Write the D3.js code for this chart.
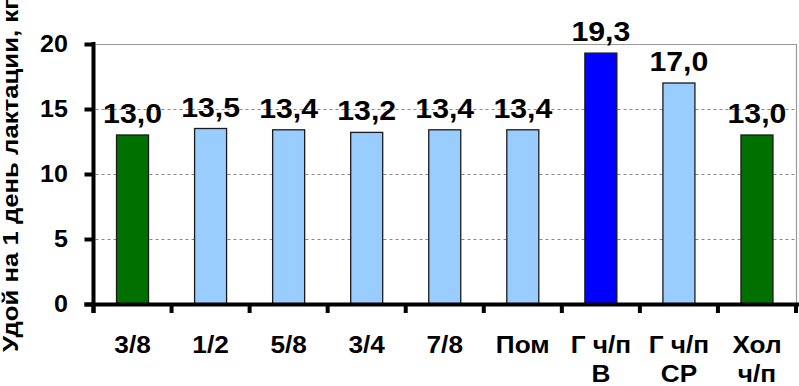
<!DOCTYPE html>
<html>
<head>
<meta charset="utf-8">
<script src="https://cdn.jsdelivr.net/npm/d3@7"></script>
<style>
  body { margin: 0; background: #fff; }
  text { font-family: "Liberation Sans", Arial, sans-serif; font-weight: bold; fill: #000; }
</style>
</head>
<body>
<div id="chart"></div>
<script>
// Data
var categories = ["3/8", "1/2", "5/8", "3/4", "7/8", "Пом", "Г ч/п\nВ", "Г ч/п\nСР", "Хол\nч/п"];
var values = [13.0, 13.5, 13.4, 13.2, 13.4, 13.4, 19.3, 17.0, 13.0];
var groups = ["hol", "cross", "cross", "cross", "cross", "cross", "top", "cross", "hol"];
var yTicks = [0, 5, 10, 15, 20];
var yTitle = "Удой на 1 день лактации, кг";

var width = 799, height = 386;

var svg = d3.select("#chart").append("svg")
    .attr("width", width)
    .attr("height", height);

var x = d3.scaleBand()
    .domain(categories)
    .range([93.5, 796]);

var y = d3.scaleLinear()
    .domain([0, 20])
    .range([304, 44]);

var color = d3.scaleOrdinal()
    .domain(["hol", "cross", "top"])
    .range(["#007000", "#99ccff", "#0000ff"]);

// grid lines
svg.append("g")
    .selectAll("line")
    .data(yTicks.filter(function(d) { return d > 0 && d < 20; }))
    .enter().append("line")
    .attr("x1", x.range()[0] + 2)
    .attr("x2", x.range()[1])
    .attr("y1", function(d) { return y(d) + 0.5; })
    .attr("y2", function(d) { return y(d) + 0.5; })
    .style("stroke", "#888")
    .style("stroke-dasharray", "3,3");

// plot frame (top and right)
svg.append("path")
    .attr("d", "M" + (x.range()[0] + 2) + "," + (y(20) + 0.5) + "H" + (x.range()[1] + 0.5) + "V" + y(0))
    .style("fill", "none")
    .style("stroke", "#999")
    .style("stroke-width", 1.2);

// bars
var barW = x.bandwidth() * 0.41;
svg.append("g")
    .selectAll("rect")
    .data(values)
    .enter().append("rect")
    .attr("x", function(d, i) { return x(categories[i]) + (x.bandwidth() - barW) / 2; })
    .attr("y", function(d) { return y(d); })
    .attr("width", barW)
    .attr("height", function(d) { return y(0) - y(d); })
    .style("fill", function(d, i) { return color(groups[i]); })
    .style("stroke", "#1a1a1a")
    .style("stroke-width", 1.3);

// value labels
svg.append("g")
    .selectAll("text")
    .data(values)
    .enter().append("text")
    .attr("transform", function(d, i) {
        return "translate(" + (x(categories[i]) + x.bandwidth() / 2) + "," + (y(d) - 12) + ") scale(1.08,1)";
    })
    .style("text-anchor", "middle")
    .style("font-size", "28px")
    .text(function(d) { return d.toFixed(1).replace(".", ","); });

// y axis
var yAxis = svg.append("g")
    .attr("transform", "translate(" + x.range()[0] + ",0)")
    .call(d3.axisLeft(y).tickValues(yTicks).tickSize(9).tickSizeOuter(0).tickFormat(""));
yAxis.select(".domain").remove();
yAxis.selectAll("line").style("stroke", "#000").style("stroke-width", 4);
svg.append("line")
    .attr("x1", x.range()[0]).attr("x2", x.range()[0])
    .attr("y1", y(20) - 2).attr("y2", y(0) + 9)
    .style("stroke", "#000").style("stroke-width", 4);

svg.append("g")
    .selectAll("text")
    .data(yTicks)
    .enter().append("text")
    .attr("transform", function(d) { return "translate(68," + (y(d) + 8) + ") scale(1.09,1)"; })
    .style("text-anchor", "end")
    .style("font-size", "23px")
    .text(function(d) { return d; });

// x axis
var bounds = categories.map(function(c) { return x(c); }).concat([x.range()[1]]);
svg.append("line")
    .attr("x1", x.range()[0] - 9).attr("x2", width)
    .attr("y1", y(0) + 0.5).attr("y2", y(0) + 0.5)
    .style("stroke", "#000").style("stroke-width", 4);
svg.append("g")
    .selectAll("line")
    .data(bounds)
    .enter().append("line")
    .attr("x1", function(d) { return d; })
    .attr("x2", function(d) { return d; })
    .attr("y1", y(0))
    .attr("y2", y(0) + 9)
    .style("stroke", "#000").style("stroke-width", 4);

var xl = svg.append("g")
    .selectAll("text")
    .data(categories)
    .enter().append("text")
    .attr("transform", function(d) { return "translate(" + (x(d) + x.bandwidth() / 2) + ",353) scale(1.14,1)"; })
    .style("text-anchor", "middle")
    .style("font-size", "23px");
xl.selectAll("tspan")
    .data(function(d) { return d.split("\n"); })
    .enter().append("tspan")
    .attr("x", 0)
    .attr("dy", function(d, i) { return i ? 29 : 0; })
    .text(function(d) { return d; });

// y title
svg.append("text")
    .attr("transform", "translate(18,352) rotate(-90) scale(1.17,1)")
    .style("text-anchor", "start")
    .style("font-size", "22px")
    .text(yTitle);
</script>
</body>
</html>
